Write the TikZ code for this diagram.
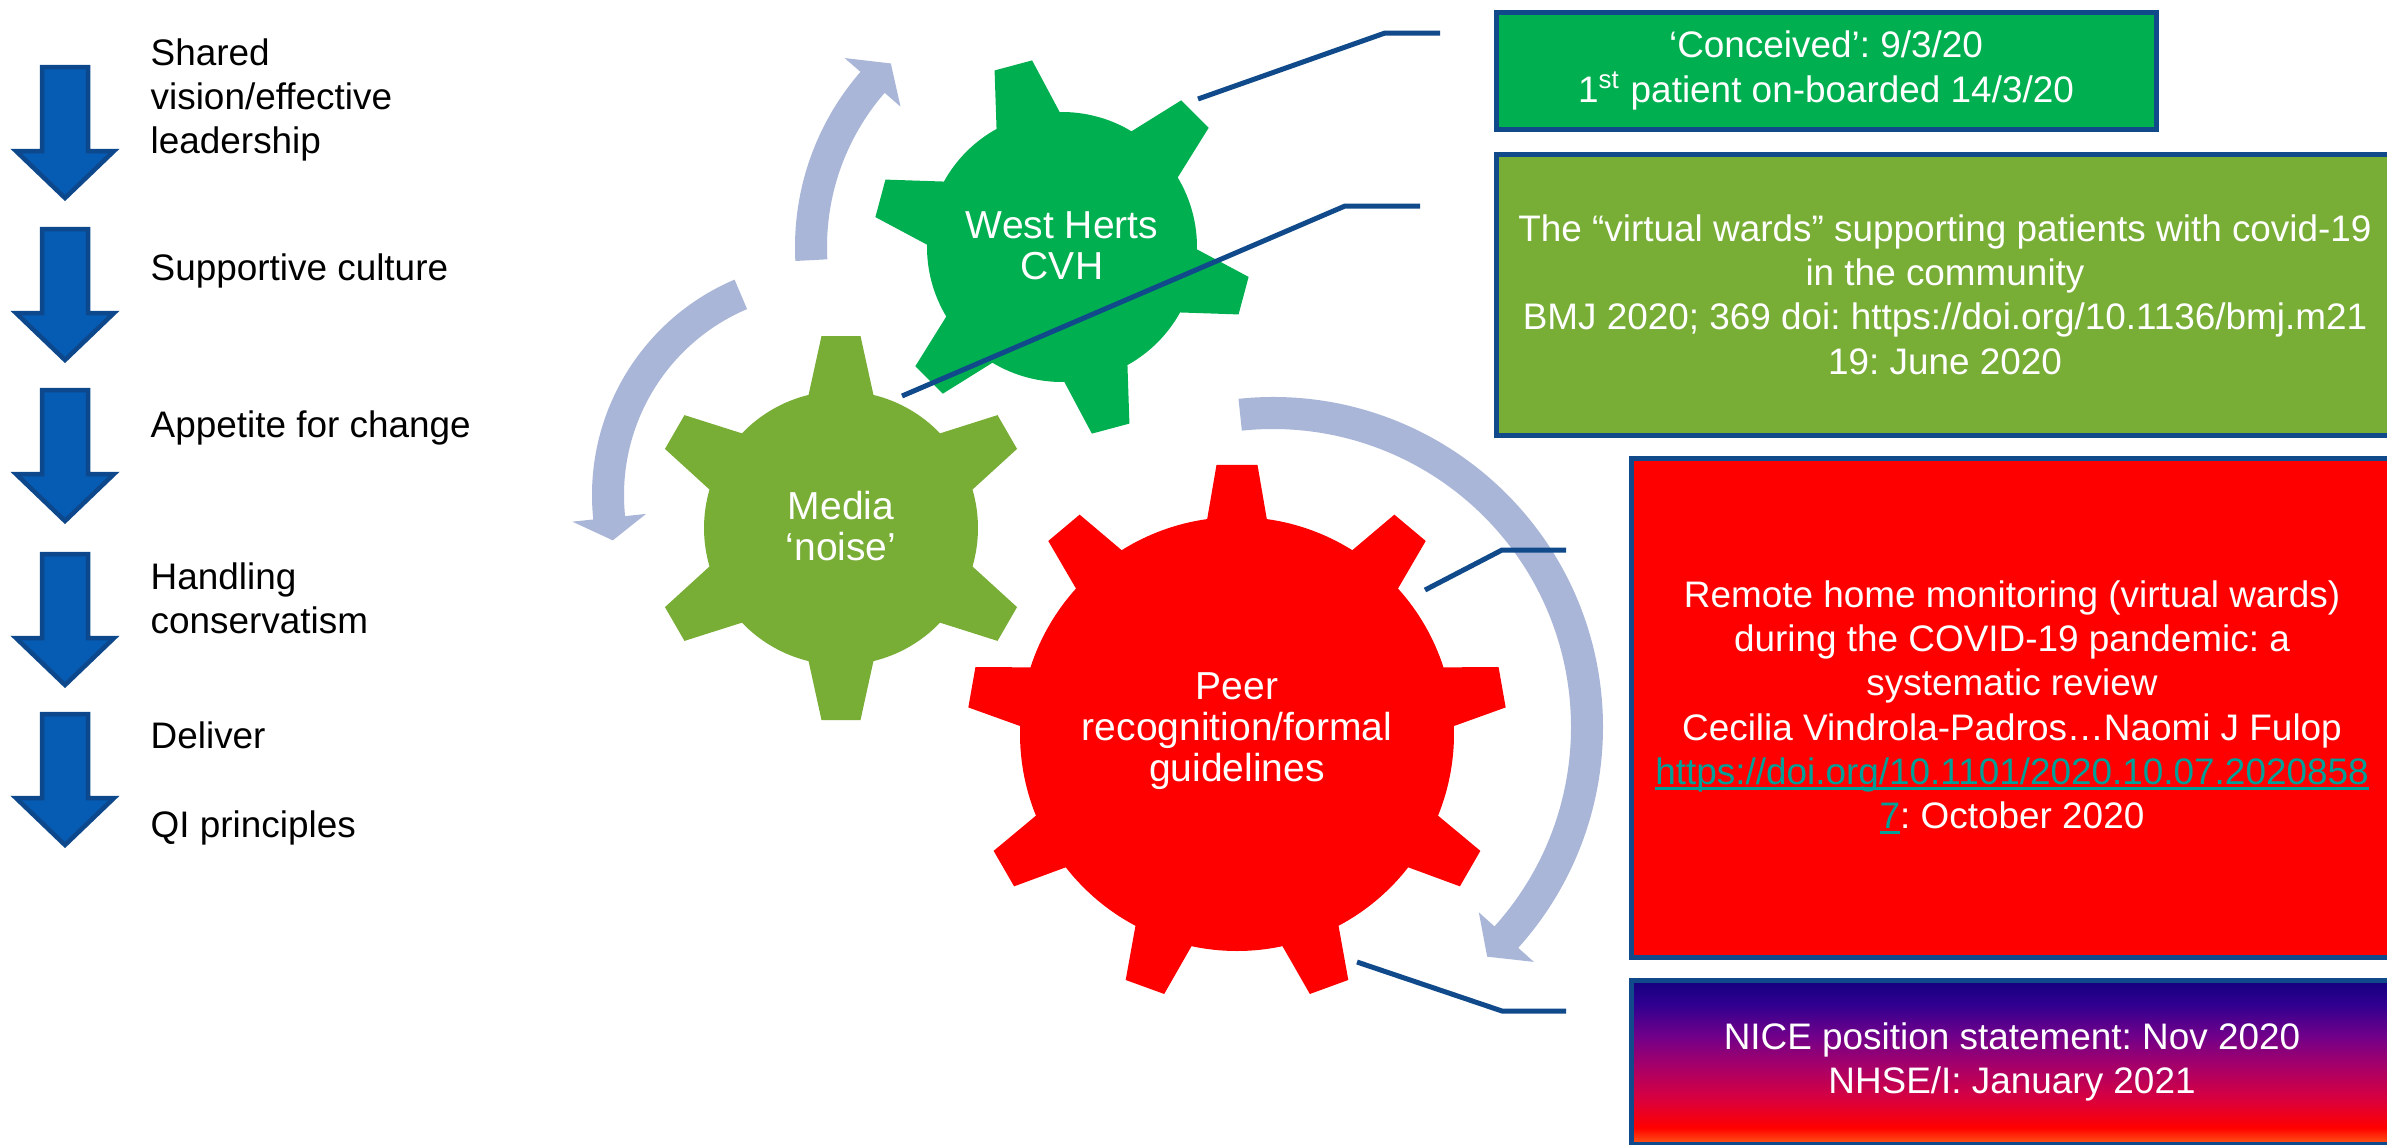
\documentclass[tikz,border=0pt]{standalone}
\usepackage{fontspec}
\setmainfont{Liberation Sans}
\usepackage{tikz}
\usepackage{xcolor}
\definecolor{cvhgreen}{RGB}{0,176,80}
\definecolor{mediagreen}{RGB}{120,173,54}
\definecolor{peerred}{RGB}{255,0,0}
\definecolor{lineblue}{RGB}{16,74,138}
\definecolor{arrowblue}{RGB}{6,91,178}
\definecolor{arrowedge}{RGB}{14,72,140}
\definecolor{cycleblue}{RGB}{169,182,216}
\definecolor{doiteal}{RGB}{0,160,152}
\definecolor{fadenavy}{RGB}{20,0,125}
\definecolor{fadeviolet}{RGB}{46,0,144}
\definecolor{fadepurple}{RGB}{112,0,138}
\definecolor{fademagenta}{RGB}{165,0,106}
\definecolor{fadecrimson}{RGB}{216,0,64}
\definecolor{fadeorange}{RGB}{255,90,20}
\frenchspacing

% navy at the top of the box, running down to red and orange
\pgfdeclareverticalshading{nicefade}{100bp}{color(0bp)=(fadeorange); color(25bp)=(fadeorange);
  color(30bp)=(peerred); color(39bp)=(fadecrimson); color(49bp)=(fademagenta);
  color(58bp)=(fadepurple); color(68bp)=(fadeviolet); color(75bp)=(fadenavy); color(100bp)=(fadenavy)}

% teal link text with a close underline
\newsavebox{\doibox}
\newcommand{\doilink}[1]{\sbox{\doibox}{\color{doiteal}#1}%
  {\color{doiteal}\rlap{\rule[-0.55mm]{\wd\doibox}{0.3mm}}}\usebox{\doibox}}

% cog: colour, centre, first tooth angle, teeth, root radius, tip radius, half-angle at root, half-angle at tip
\newcommand{\cog}[8]{%
  \pgfmathsetmacro{\cogpitch}{360/#4}
  \fill[#1, shift={(#2)}] (#3-#7:#5)
    \foreach \k [evaluate=\k as \ang using #3+(\k-1)*\cogpitch] in {1,...,#4} {
      -- (\ang-#7:#5) -- (\ang-#8:#6) -- (\ang+#8:#6) -- (\ang+#7:#5)
      arc[start angle=\ang+#7, end angle=\ang+\cogpitch-#7, radius=#5]
    } -- cycle;}

% curved arrow: centre, tail angle, neck angle, point angle, inner radius
\newcommand{\turnarrow}[5]{%
  \pgfmathsetmacro{\turnout}{#5+32}
  \pgfmathsetmacro{\turnmid}{#5+16}
  \pgfmathsetmacro{\turnwout}{#5+53}
  \pgfmathsetmacro{\turnwin}{#5-21}
  \fill[cycleblue, shift={(#1)}] (#2:\turnout) arc[start angle=#2, end angle=#3, radius=\turnout]
    -- (#3:\turnwout) -- (#4:\turnmid) -- (#3:\turnwin) -- (#3:#5)
    arc[start angle=#3, end angle=#2, radius=#5] -- cycle;}

\begin{document}
\begin{tikzpicture}[x=0.1mm, y=-0.1mm,
  every node/.style={font=\fontsize{10.5}{12.6}\selectfont, inner sep=0pt},
  factor/.style={align=left},
  cogtext/.style={text=white, align=center, font=\fontsize{11.1}{11.6}\selectfont},
  infobox/.style={draw=lineblue, line width=0.5mm, text=white, align=center},
  callout/.style={draw=lineblue, line width=0.5mm},
  downarrow/.style={fill=arrowblue, draw=arrowedge, line width=0.45mm}]
\useasboundingbox (0,0) rectangle (2387,1144);
\fill[white] (0,0) rectangle (2387,1144);
\clip (0,0) rectangle (2387,1144);

% steps down the left
\foreach \y in {67,229,390,554,714}
  \filldraw[downarrow] (42,\y) -- (88,\y) -- (88,\y+84) -- (114,\y+84) -- (65,\y+131)
    -- (16,\y+84) -- (42,\y+84) -- cycle;
\node[factor, anchor=west] (vision) at (150,100) {Shared\\vision/effective\\leadership};
\node[factor, anchor=base west] (culture) at (150,280) {Supportive culture};
\node[factor, anchor=base west] (appetite) at (150,437) {Appetite for change};
\node[factor, anchor=west] (conserv) at (150,598) {Handling\\conservatism};
\node[factor, anchor=base west] (deliver) at (150,748) {Deliver};
\node[factor, anchor=base west] (qi) at (150,837) {QI principles};

% turning arrows round the cogs
\turnarrow{1062,247}{-183}{-139}{-133}{235}
\turnarrow{826,495}{-113}{-186}{-192}{202}
\turnarrow{1273,727}{-96}{42}{47}{298}

% cogs
\cog{cvhgreen}{1062,247}{15}{6}{135}{189}{14}{5.9}
\cog{mediagreen}{841,528}{30}{6}{137}{193}{13.7}{5.8}
\cog{peerred}{1237,734}{30}{9}{217}{270}{7.9}{4.35}
\node[cogtext] (cvh) at (1062,246) {West Herts\\CVH};
\node[cogtext] (media) at (841,526) {Media\\‘noise’};
\node[cogtext] (peer) at (1237,731) {Peer\\recognition/formal\\guidelines};

% milestones
\node[infobox, fill=cvhgreen, minimum width=66mm, minimum height=11.7mm] (conceived) at (1826,70.5)
  {‘Conceived’: 9/3/20\\1\textsuperscript{st} patient on-boarded 14/3/20};
\node[infobox, fill=mediagreen, minimum width=89.8mm, minimum height=28.1mm] (bmj) at (1945,294.5)
  {The “virtual wards” supporting patients with covid-19\\in the community\\BMJ 2020; 369 doi: https://doi.org/10.1136/bmj.m21\\19: June 2020};
\node[infobox, fill=peerred, minimum width=76.2mm, minimum height=49.9mm] (review) at (2012,707.5)
  {Remote home monitoring (virtual wards)\\during the COVID-19 pandemic: a\\systematic review\\Cecilia Vindrola-Padros…Naomi J Fulop\\\doilink{https://doi.org/10.1101/2020.10.07.2020858}\\\doilink{7}: October 2020};
\node[infobox, shading=nicefade, minimum width=76.2mm, minimum height=16.4mm] (nice) at (2012,1062)
  {NICE position statement: Nov 2020\\NHSE/I: January 2021};

% callouts
\coordinate (cvhpin) at (1198,99);   \coordinate (cvhknee) at (1385,33);   \coordinate (cvhend) at (1440,33);
\coordinate (bmjpin) at (902,396);   \coordinate (bmjknee) at (1345,206);  \coordinate (bmjend) at (1420,206);
\coordinate (revpin) at (1425,590);  \coordinate (revknee) at (1502,550);  \coordinate (revend) at (1566,550);
\coordinate (nicepin) at (1357,962); \coordinate (niceknee) at (1502,1011); \coordinate (niceend) at (1566,1011);
\draw[callout] (cvhpin) -- (cvhknee) -- (cvhend);
\draw[callout] (bmjpin) -- (bmjknee) -- (bmjend);
\draw[callout] (revpin) -- (revknee) -- (revend);
\draw[callout] (nicepin) -- (niceknee) -- (niceend);
\end{tikzpicture}
\end{document}
